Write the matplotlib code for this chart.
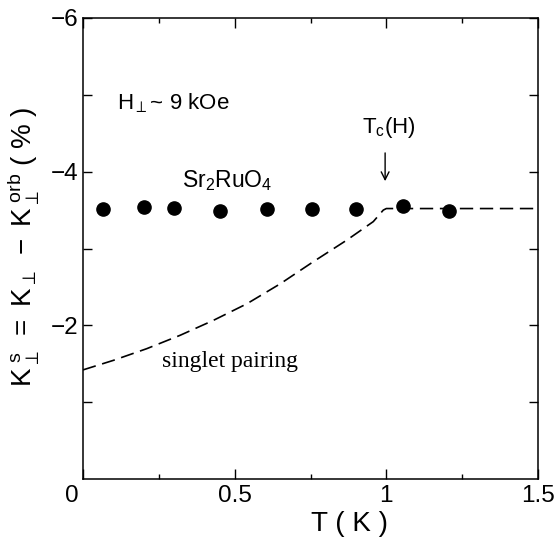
import matplotlib
matplotlib.use("Agg")
import matplotlib.pyplot as plt
import matplotlib.transforms as mtransforms
from matplotlib.ticker import FixedLocator, NullFormatter

plt.rcParams['font.family'] = ['Liberation Sans', 'DejaVu Sans']
plt.rcParams['mathtext.fontset'] = 'custom'
plt.rcParams['mathtext.rm'] = 'Liberation Sans'
plt.rcParams['mathtext.it'] = 'Liberation Sans'
plt.rcParams['mathtext.bf'] = 'Liberation Sans:bold'

# Measured data (Sr2RuO4)
T_data = [0.065, 0.20, 0.30, 0.45, 0.605, 0.755, 0.90, 1.055, 1.205]
K_data = [-3.51, -3.54, -3.53, -3.49, -3.51, -3.51, -3.51, -3.55, -3.49]

# Singlet pairing expectation (dashed)
T_curve = [0.0, 0.10, 0.21, 0.32, 0.43, 0.54, 0.65, 0.76, 0.87, 0.957, 0.99, 1.0, 1.5]
K_curve = [-1.42, -1.544, -1.696, -1.87, -2.065, -2.28, -2.54, -2.83, -3.11, -3.35, -3.50, -3.52, -3.52]

x_ticks = [0, 0.5, 1, 1.5]
x_tick_labels = ['0', '0.5', '1', '1.5']
y_ticks = [-6, -4, -2]
y_tick_labels = ['\u22126', '\u22124', '\u22122']

fig = plt.figure(figsize=(5.58, 5.53), dpi=100)
ax = fig.add_axes([83/558, 1 - 479/553, (538-83)/558, (479-18)/553])

ax.plot(T_curve, K_curve, color='black', lw=1.2, dashes=(8, 4))
ax.plot(T_data, K_data, 'o', color='black', markersize=9.5, zorder=3)

ax.set_xlim(0, 1.5)
ax.set_ylim(0, -6)

ax.set_xticks(x_ticks)
ax.set_xticklabels(x_tick_labels)
ax.set_yticks(y_ticks)
ax.set_yticklabels(y_tick_labels)
ax.xaxis.set_minor_locator(FixedLocator([0.25, 0.75, 1.25]))
ax.yaxis.set_minor_locator(FixedLocator([-5, -3, -1]))
ax.xaxis.set_minor_formatter(NullFormatter())
ax.yaxis.set_minor_formatter(NullFormatter())

ax.tick_params(axis='both', which='both', direction='in', top=True, right=True,
               labelsize=17.5, width=1.0)
ax.tick_params(axis='x', which='major', length=7, pad=4)
ax.tick_params(axis='x', which='minor', length=3.5)
ax.tick_params(axis='y', which='both', length=6.5, pad=3)
for s in ax.spines.values():
    s.set_linewidth(1.1)

# the "0" label sits slightly left of the origin in the reference
first = ax.get_xticklabels()[0]
first.set_transform(first.get_transform() +
                    mtransforms.ScaledTranslation(-11/100, 0, fig.dpi_scale_trans))

ax.set_xlabel('T ( K )', fontsize=20)
ax.xaxis.set_label_coords(0.586, -0.07)
ax.set_ylabel(r'$\mathrm{K}_{\perp}^{\ \mathrm{s}}\ =\ \mathrm{K}_{\perp}\ -\ \mathrm{K}_{\perp}^{\ \mathrm{orb}}$ ( % )',
              fontsize=20)
ax.yaxis.set_label_coords(-0.093, 0.503)

ax.text(0.112, -4.81, r'H$_{\perp}$~ 9 kOe', fontsize=16, va='baseline', ha='left')
ax.text(0.326, -3.80, r'Sr$_2$RuO$_4$', fontsize=16.5, va='baseline', ha='left')
ax.text(1.009, -4.50, r'T$_\mathrm{c}$(H)', fontsize=16, va='baseline', ha='center')
ax.annotate('', xy=(0.996, -3.84), xytext=(0.996, -4.28),
            arrowprops=dict(arrowstyle='->', color='black', lw=1.0, mutation_scale=14))
ax.text(0.259, -1.46, 'singlet pairing', fontsize=17, va='baseline', ha='left',
        family='Liberation Serif')

fig.savefig('out.png', dpi=100)
